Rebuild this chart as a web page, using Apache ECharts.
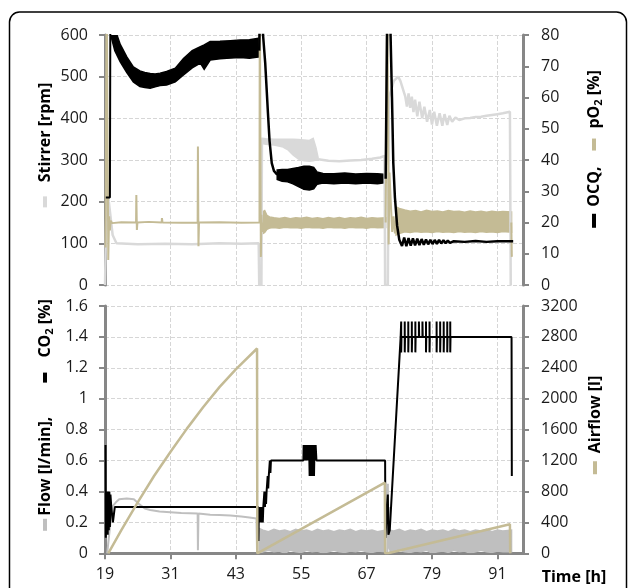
<!DOCTYPE html>
<html>
<head>
<meta charset="utf-8">
<script src="https://cdn.jsdelivr.net/npm/echarts@6/dist/echarts.min.js"></script>
<style>html,body{margin:0;padding:0;background:#fff}#c{width:629px;height:588px}</style>
</head>
<body>
<div id="c"></div>
<script>
// ---------- axis ticks ----------
const timeTicks = [19, 31, 43, 55, 67, 79, 91];
const stirrerTicks = [0, 100, 200, 300, 400, 500, 600];
const percentTicks = [0, 10, 20, 30, 40, 50, 60, 70, 80];
const flowTicks = [0, 0.2, 0.4, 0.6, 0.8, 1, 1.2, 1.4, 1.6];
const airflowTicks = [0, 400, 800, 1200, 1600, 2000, 2400, 2800, 3200];
const timeMax = 95.7;

// ---------- top panel: Stirrer [rpm] ----------
const stirrerA = [[19.0,0],[19.25,0],[19.35,250],[19.7,200],[20.4,120],[21.1,100],[25,98],[30,99],[35,98],[40,100],[44,99],[47.2,100],[47.3,0],[47.7,0],[47.8,350]];
const stirrerBand = [[47.8,340,352],[48.5,338,351],[50,336,350],[51.5,332,350],[52.5,325,350],[53.5,312,350],[54.5,302,349],[55.5,298,348],[56.5,297,347],[57.2,298,352],[57.7,300,330],[58.1,300,306]];
const stirrerB = [[58.1,302],[60,298],[62,297],[64,299],[66,300],[68,303],[69.5,306],[70.3,310],[70.4,0],[70.9,0],[71.1,450],[72.0,490],[72.8,500],[73.2,490],[74.1,452],[74.4,428],[74.7,460],[75.0,425],[75.3,452],[75.6,415],[75.9,445],[76.3,405],[76.7,440],[77.2,400],[77.6,428],[78.1,392],[78.6,420],[79.0,385],[79.4,416],[79.9,382],[80.4,412],[80.9,382],[81.3,410],[81.8,384],[82.2,406],[82.7,392],[83.3,402],[84,396],[85,400],[86,401],[87,403],[88,404],[89,406],[90,408],[91,410],[92,412],[93.3,416],[93.45,0],[93.6,0]];

// ---------- top panel: OCQ [%] ----------
const ocqA = [[19.15,28],[19.9,28],[20.0,100]];
const ocqBand1 = [[20.2,79,100],[20.8,75,82],[21.8,71.4,77],[23.0,68,73],[24.2,65,69.8],[25.4,63.5,68.5],[26.3,63.2,68],[27.3,63,67.7],[28.2,63.4,67.5],[29.1,63.8,67.8],[30.3,64,68.3],[31.9,65,69.4],[33.4,67.2,72.5],[35.0,69.5,75],[36.5,71,76.3],[37.2,69,76.8],[38.3,72,77.9],[40.1,72.4,78],[42,72.6,78.2],[43.8,72.8,78.4],[45.5,72.6,78.5],[47.3,73,79]];
const ocqB = [[47.3,75],[47.5,100],[47.9,100],[48.0,80],[48.4,71],[48.65,63],[48.9,55],[49.2,46],[49.6,39],[50.0,36.5],[50.6,35.3]];
const ocqBand2 = [[50.6,33.8,36.8],[51.5,33.2,37],[52.5,33,37],[53.5,32.4,37.3],[54.5,31.5,37.6],[55.5,30.6,38],[56.5,30.4,38],[57.3,30.8,37.6],[57.9,32.2,36.2],[59,32.6,35.7],[61,32.4,35.6],[63,32.6,35.8],[65,32.4,35.5],[67,32.6,35.7],[69,32.4,35.6],[70.5,32.8,35.4]];
const ocqC = [[70.5,34],[70.6,34],[70.85,100],[71.3,100],[71.4,80],[71.66,60],[71.9,39],[72.2,28],[72.6,19],[73.0,14.5],[73.5,12.5],[73.9,15.2],[74.3,12.4],[74.7,15],[75.1,12.6],[75.5,14.9],[75.9,12.7],[76.3,14.8],[76.7,12.8],[77.1,14.7],[77.5,12.9],[77.9,14.6],[78.3,13],[78.7,14.5],[79.1,13.1],[79.5,14.4],[79.9,13.2],[80.3,14.4],[80.7,13.3],[81.1,14.3],[81.5,13.4],[81.9,14.2],[82.3,13.5],[83,14],[85,13.8],[87,14.1],[89,13.8],[91,14],[93.9,14]];

// ---------- top panel: pO2 [%] ----------
const po2A = [[19.1,12],[19.3,100],[19.45,100],[19.6,8],[19.75,22],[19.9,17.5],[20.05,20.6],[20.3,19.8],[22,20.1],[24.7,20],[24.75,28.8],[24.85,17.6],[24.95,20],[27,20.2],[29.4,20],[29.45,21.4],[29.55,20],[33,19.9],[36.0,20],[36.05,44.3],[36.15,12.4],[36.25,20],[40,20.1],[44,19.9],[47.35,20],[47.4,100],[47.55,100],[47.6,9],[47.7,22.5],[47.85,17],[48.0,20]];
const po2Band1 = [[48.0,16.5,23.5],[48.3,16.8,23.8],[48.7,17.8,22.3],[49.2,18.2,21.8],[50,18.4,21.5],[51,18.2,21.3],[52,18.5,21.6],[53,18.3,21.2],[54,18.4,21.5],[55,18.2,21.4],[56,18.5,21.7],[57,18.3,21.3],[58,18.4,21.5],[59,18.2,21.2],[60,18.5,21.6],[61,18.3,21.3],[62,18.4,21.6],[63,18.2,21.2],[64,18.5,21.5],[65,18.3,21.4],[66,18.4,21.7],[67,18.2,21.3],[68,18.5,21.5],[69,18.3,21.4],[70.5,18.4,21.5]];
const po2B = [[70.5,20],[70.8,100],[70.95,100],[71.05,13],[71.2,36],[71.45,26],[71.7,17],[71.95,22],[72.2,16.5],[72.45,21]];
const po2Band2 = [[72.4,16,25],[73,16.5,24.5],[74,17,24],[75,16.8,23.6],[76,17.1,23.8],[77,16.9,23.4],[78,17,23.9],[79,16.8,23.5],[80,17.1,23.7],[81,16.9,23.4],[82,17,23.8],[83,16.8,23.5],[84,17.1,23.6],[85,16.9,23.3],[86,17,23.7],[87,16.8,23.4],[88,17.1,23.6],[89,16.9,23.3],[90,17,23.6],[91,16.8,23.4],[92,17.1,23.5],[93.6,16.9,23.4]];
const po2C = [[93.55,20],[93.65,9]];

// ---------- bottom panel: Flow [l/min] ----------
const flowA = [[19.4,0],[19.6,0],[20.3,0.3],[21.0,0.33],[21.6,0.35],[23,0.355],[24.3,0.35],[25.2,0.32],[26.3,0.29],[27.3,0.28],[29,0.27],[31,0.265],[33,0.26],[36.0,0.258],[36.05,0.02],[36.15,0.258],[38.3,0.25],[40,0.248],[42,0.245],[44,0.238],[45.5,0.232],[46.8,0.225],[46.9,0.0]];
const flowBand1 = [[47.3,0.0,0.16],[48,0.01,0.15],[49,0.02,0.14],[50,0.01,0.155],[51,0.015,0.145],[52,0.0,0.15],[53,0.02,0.14],[54,0.01,0.155],[55,0.005,0.145],[56,0.02,0.15],[57,0.01,0.14],[58,0.015,0.155],[59,0.0,0.145],[60,0.01,0.15],[61,0.02,0.14],[62,0.01,0.15],[63,0.005,0.145],[64,0.015,0.155],[65,0.01,0.14],[66,0.02,0.15],[67,0.01,0.145],[68,0.005,0.15],[69,0.015,0.14],[70.4,0.01,0.15]];
const flowSpike = [[70.8,0],[70.9,0.45],[71.0,0.03],[71.1,0.3],[71.25,0.02]];
const flowBand2 = [[71.3,0.0,0.15],[72,0.01,0.145],[73,0.02,0.155],[74,0.01,0.14],[75,0.005,0.15],[76,0.015,0.145],[77,0.01,0.155],[78,0.02,0.14],[79,0.0,0.15],[80,0.01,0.145],[81,0.015,0.15],[82,0.005,0.14],[83,0.02,0.155],[84,0.01,0.145],[85,0.015,0.15],[86,0.0,0.14],[87,0.01,0.15],[88,0.02,0.145],[89,0.01,0.155],[90,0.005,0.14],[91,0.015,0.15],[92,0.01,0.145],[93.6,0.01,0.15]];

// ---------- bottom panel: CO2 [%] ----------
const co2 = [[19.1,0.7],[19.15,0.1],[19.25,0.4],[19.3,0.12],[19.4,0.4],[19.5,0.12],[19.6,0.4],[19.7,0.15],[19.8,0.4],[19.9,0.17],[20.0,0.38],[20.15,0.3],[20.4,0.3],[20.45,0.2],[20.75,0.2],[20.8,0.3],[47.1,0.3],[47.15,0.08],[47.25,0.3],[47.35,0.2],[47.45,0.3],[47.55,0.2],[47.65,0.3],[47.75,0.2],[47.85,0.3],[47.95,0.2],[48.05,0.3],[48.2,0.3],[48.25,0.4],[48.35,0.3],[48.45,0.4],[48.55,0.32],[48.65,0.4],[48.75,0.45],[48.85,0.5],[48.95,0.42],[49.05,0.5],[49.15,0.5],[49.25,0.6],[49.35,0.52],[49.45,0.6],[55.4,0.6],[55.45,0.7],[55.6,0.6],[55.65,0.7],[55.8,0.6],[55.85,0.7],[56.0,0.6],[56.05,0.7],[56.2,0.6],[56.25,0.7],[56.4,0.6],[56.45,0.7],[56.55,0.5],[56.65,0.7],[56.75,0.5],[56.85,0.7],[56.95,0.5],[57.05,0.7],[57.15,0.5],[57.25,0.7],[57.35,0.5],[57.45,0.7],[57.6,0.6],[57.65,0.7],[57.8,0.6],[70.4,0.6],[70.45,0.1],[70.8,0.1],[70.9,0.38],[71.0,0.12],[71.25,0.15],[73.25,1.4],
  [73.35,1.4],[73.35,1.5],[73.35,1.3],[73.4,1.4],
  [74.0,1.4],[74.0,1.5],[74.0,1.3],[74.05,1.4],
  [74.65,1.4],[74.65,1.5],[74.65,1.3],[74.7,1.4],
  [75.3,1.4],[75.3,1.5],[75.3,1.3],[75.35,1.4],
  [75.95,1.4],[75.95,1.5],[75.95,1.3],[76.0,1.4],
  [76.6,1.4],[76.6,1.5],[76.65,1.4],
  [77.25,1.4],[77.25,1.5],[77.3,1.4],
  [77.9,1.4],[77.9,1.5],[77.9,1.3],[77.95,1.4],
  [78.55,1.4],[78.55,1.5],[78.55,1.3],[78.6,1.4],
  [79.85,1.4],[79.85,1.5],[79.85,1.3],[79.9,1.4],
  [80.5,1.4],[80.5,1.5],[80.5,1.3],[80.55,1.4],
  [81.15,1.4],[81.15,1.5],[81.15,1.3],[81.2,1.4],
  [81.8,1.4],[81.8,1.5],[81.8,1.3],[81.85,1.4],
  [82.35,1.4],[82.35,1.5],[82.35,1.3],[82.4,1.4],
  [93.6,1.4],[93.65,0.5]];

// ---------- bottom panel: Airflow [l] ----------
const airflow = [[19.6,0],[22,300],[25,660],[28,1000],[31,1310],[34,1610],[37,1890],[40,2150],[43,2380],[46.9,2650],[46.95,0],[47.3,0],[70.35,914],[70.4,0],[70.9,0],[93.3,375],[93.35,0]];

// ---------- styling ----------
const T0 = 19;
const FONT = "'Open Sans', sans-serif";
const C_STIR = '#d9d9d9', C_BLACK = '#000000', C_TAN = '#c4bb95', C_FLOW = '#bfbfbf';
const AXIS_C = '#878787', GRID_C = '#d6d6d6', LABEL_C = '#1a1a1a';

function lineSeries(data, xi, yi, color, width) {
  return { type: 'line', xAxisIndex: xi, yAxisIndex: yi, data: data.map(p => [p[0] - T0, p[1]]),
    symbol: 'none', showSymbol: false, lineStyle: { color: color, width: width }, itemStyle: { color: color },
    silent: true, animation: false, clip: true };
}
function bandSeries(data, xi, yi, color) {
  const pts = data.map(d => [d[0] - T0, d[1], d[2]]);
  return { type: 'custom', xAxisIndex: xi, yAxisIndex: yi, data: pts, encode: { x: 0, y: [1, 2] },
    clip: true, silent: true, animation: false,
    renderItem: function (params, api) {
      if (params.dataIndex !== 0) return null;
      const up = pts.map(d => api.coord([d[0], d[2]]));
      const lo = pts.slice().reverse().map(d => api.coord([d[0], d[1]]));
      const cs = params.coordSys;
      return { type: 'group', clipPath: { type: 'rect', shape: { x: cs.x, y: cs.y, width: cs.width, height: cs.height } },
        children: [{ type: 'polygon', shape: { points: up.concat(lo) }, style: { fill: color, stroke: color, lineWidth: 1.5 } }] };
    } };
}
function xAxis(gi, showLabels) {
  return { type: 'value', gridIndex: gi, min: 0, max: timeMax - T0, interval: 12,
    axisLine: { show: showLabels, onZero: false, lineStyle: { color: AXIS_C, width: 3 } },
    axisTick: { show: showLabels, length: 6, inside: false, lineStyle: { color: AXIS_C, width: 2 } },
    axisLabel: { show: showLabels, showMaxLabel: false, margin: 13, fontSize: 16, fontFamily: FONT, color: LABEL_C,
      formatter: v => String(Math.round(v + T0)) },
    splitLine: { show: true, lineStyle: { color: GRID_C, type: [4, 2], width: 1 } } };
}
function yAxis(gi, pos, ticks, split) {
  return { type: 'value', gridIndex: gi, position: pos, min: ticks[0], max: ticks[ticks.length - 1],
    interval: ticks[1] - ticks[0],
    axisLine: { show: true, lineStyle: { color: AXIS_C, width: 3 } },
    axisTick: { show: true, length: 6, lineStyle: { color: AXIS_C, width: 2 } },
    axisLabel: { margin: pos === 'left' ? 17 : 18, fontSize: 16, fontFamily: FONT, color: LABEL_C,
      formatter: v => String(Math.round(v * 1000) / 1000) },
    splitLine: { show: split, lineStyle: { color: GRID_C, type: [4, 2], width: 1 } } };
}
function vlabel(x, y, text, rich) {
  const base = { fontSize: 16, fontWeight: 'bold', fontFamily: FONT, fill: '#000', lineHeight: 20 };
  const r = Object.assign({ t: base, sub: { fontSize: 11, fontWeight: 'bold', fontFamily: FONT, fill: '#000', lineHeight: 12, verticalAlign: 'bottom' } }, rich);
  return { type: 'text', x: x, y: y, rotation: Math.PI / 2, z: 100,
    style: { text: text, align: 'center', verticalAlign: 'middle', fontSize: 16, fontWeight: 'bold', fontFamily: FONT, fill: '#000', rich: r } };
}
function mark(color, w) { return { width: w, height: 4, backgroundColor: color, fontSize: 4, lineHeight: 4 }; }
function gap(w) { return { width: w, fontSize: 4 }; }

const chart = echarts.init(document.getElementById('c'), null, { renderer: 'canvas' });
chart.setOption({
  animation: false,
  backgroundColor: '#ffffff',
  grid: [
    { left: 105, right: 106, top: 35, height: 250 },
    { left: 105, right: 106, top: 306, height: 247.3 }
  ],
  xAxis: [xAxis(0, false), xAxis(1, true)],
  yAxis: [
    yAxis(0, 'left', stirrerTicks, true),
    yAxis(0, 'right', percentTicks, false),
    yAxis(1, 'left', flowTicks, true),
    yAxis(1, 'right', airflowTicks, false)
  ],
  series: [
    lineSeries(stirrerA, 0, 0, C_STIR, 2.5),
    bandSeries(stirrerBand, 0, 0, C_STIR),
    lineSeries(stirrerB, 0, 0, C_STIR, 2.5),
    lineSeries(po2A, 0, 1, C_TAN, 2),
    bandSeries(po2Band1, 0, 1, C_TAN),
    lineSeries(po2B, 0, 1, C_TAN, 2),
    bandSeries(po2Band2, 0, 1, C_TAN),
    lineSeries(po2C, 0, 1, C_TAN, 2),
    lineSeries(ocqA, 0, 1, C_BLACK, 2),
    bandSeries(ocqBand1, 0, 1, C_BLACK),
    lineSeries(ocqB, 0, 1, C_BLACK, 2.5),
    bandSeries(ocqBand2, 0, 1, C_BLACK),
    lineSeries(ocqC, 0, 1, C_BLACK, 2.5),
    lineSeries(flowA, 1, 2, C_FLOW, 2),
    bandSeries(flowBand1, 1, 2, C_FLOW),
    lineSeries(flowSpike, 1, 2, C_FLOW, 2),
    bandSeries(flowBand2, 1, 2, C_FLOW),
    lineSeries(co2, 1, 2, C_BLACK, 2),
    lineSeries(airflow, 1, 3, C_TAN, 2.5)
  ],
  graphic: [
    { type: 'rect', shape: { x: 9.5, y: 12, width: 617, height: 600, r: 10 }, style: { fill: 'none', stroke: '#000', lineWidth: 1.5 }, z: -1 },
    vlabel(45, 145, '{g| }{s1| }{t|Stirrer [rpm]}', { g: mark(C_STIR, 11), s1: gap(14) }),
    vlabel(594, 149, '{k| }{s1| }{t|OCQ,}{s2| }{y| }{s3| }{t|pO}{sub|2}{t| [%]}',
      { k: mark(C_BLACK, 14), s1: gap(7), s2: gap(16), y: mark(C_TAN, 12), s3: gap(10) }),
    vlabel(45, 415, '{g| }{s1| }{t|Flow [l/min],}{s2| }{k| }{s3| }{t|CO}{sub|2}{t| [%]}',
      { g: mark(C_FLOW, 12), s1: gap(3), s2: gap(34), k: mark(C_BLACK, 10), s3: gap(15) }),
    vlabel(595, 425, '{y| }{s1| }{t|Airflow [l]}', { y: mark(C_TAN, 13), s1: gap(8) }),
    { type: 'text', x: 574, y: 577, z: 100, style: { text: 'Time [h]', align: 'center', verticalAlign: 'middle', fontSize: 16, fontWeight: 'bold', fontFamily: FONT, fill: '#000' } }
  ]
});
</script>
</body>
</html>
